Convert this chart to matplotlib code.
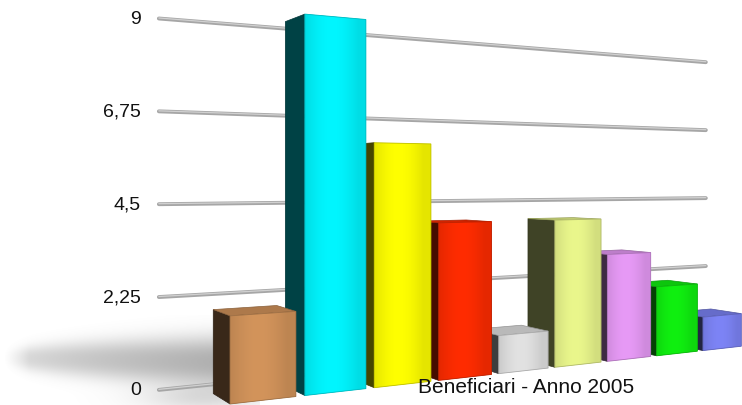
import numpy as np
import matplotlib
matplotlib.use("Agg")
import matplotlib.pyplot as plt
from matplotlib.patches import Polygon
from matplotlib.colors import to_rgb

# ---- data -------------------------------------------------------------
values = [2, 9, 6, 4, 1, 4, 3, 2, 1]
bar_colors = ["#d3945b", "#00f6ff", "#ffff00", "#ff2c00", "#e2e2e2",
              "#eaf78c", "#e79af6", "#10f010", "#7d84f6"]
tick_values = [0, 2.25, 4.5, 6.75, 9]
tick_labels = ["0", "2,25", "4,5", "6,75", "9"]
title = "Beneficiari - Anno 2005"

# ---- perspective camera (scene units = value units) ---------------------
FOCAL = 956.0
CX, CY = 371.0, 182.5
EYE_H = 5.05
PHI = np.deg2rad(27.6)
X0, Z0 = -3.2, 21.7
SPACING, WIDTH, DEPTH = 1.85, 1.62, 1.2
WALL_Z, WALL_X0, WALL_X1 = 2.2, -1.04, 17.27


def project(x, y, z):
    c, s = np.cos(PHI), np.sin(PHI)
    xc = X0 + x * c - z * s
    zc = Z0 + x * s + z * c
    return CX + FOCAL * xc / zc, CY - FOCAL * (y - EYE_H) / zc


def proj_poly(pts):
    return [project(*p) for p in pts]


def shade(color, k):
    r, g, b = to_rgb(color)
    return (r * k, g * k, b * k)


fig = plt.figure(figsize=(7.42, 4.06), dpi=100)
ax = fig.add_axes([0, 0, 1, 1])
ax.axis("off")

# ---- floor shadow ----------------------------------------------------
W, Hh = 520, 180
sx0, sx1, sy0, sy1 = 0.0, 260.0, 316.0, 406.0
uu, vv = np.meshgrid(np.linspace(sx0, sx1, W), np.linspace(sy0, sy1, Hh))
t = np.clip((uu - 6.0) / 210.0, 0, 1)
half = 6 + 20 * np.sqrt(t)
yc = 359 + 4 * t
body = np.exp(-np.abs((vv - yc) / half) ** 2.4) * (0.3 + 0.7 * t ** 0.6)
body *= np.clip((uu - 4) / 25.0, 0, 1)
lower = np.exp(-(((uu - 200) / 60.0) ** 2) - ((vv - 400) / 13.0) ** 2)
alpha = np.clip(0.62 * body + 0.25 * lower, 0, 1)
rgba = np.zeros((Hh, W, 4))
rgba[..., :3] = 0.5
rgba[..., 3] = alpha
ax.imshow(rgba, extent=(sx0, sx1, sy1, sy0), origin="upper",
          interpolation="bilinear", zorder=1, aspect="auto")

# ---- back wall grid lines ----------------------------------------------
for tv, tl in zip(tick_values, tick_labels):
    (u0, v0), (u1, v1) = project(WALL_X0, tv, WALL_Z), project(WALL_X1, tv, WALL_Z)
    ax.plot([u0, u1], [v0, v1], color="#a6a6a6", lw=2.8,
            solid_capstyle="round", zorder=2)
    ax.plot([u0, u1], [v0 - 0.5, v1 - 0.5], color="#d0d0d0", lw=0.9,
            solid_capstyle="round", zorder=2.1)
    ax.text(u0 - 18, v0, tl, ha="right", va="center", fontsize=14,
            family=["Liberation Sans", "DejaVu Sans"], color="#111111", zorder=3)

# ---- bars (far to near so the nearer ones overlap) --------------------
n = len(values)
for i in range(n - 1, -1, -1):
    val, col = values[i], bar_colors[i]
    x0 = i * SPACING
    x1 = x0 + WIDTH
    z0 = 10 + (n - i) * 3
    side = proj_poly([(x0, 0, 0), (x0, 0, DEPTH), (x0, val, DEPTH), (x0, val, 0)])
    front = proj_poly([(x0, 0, 0), (x1, 0, 0), (x1, val, 0), (x0, val, 0)])
    ax.add_patch(Polygon(side, closed=True, fc=shade(col, 0.27),
                         ec=shade(col, 0.22), lw=0.5, zorder=z0))
    if val < EYE_H:
        top = proj_poly([(x0, val, 0), (x1, val, 0), (x1, val, DEPTH), (x0, val, DEPTH)])
        ax.add_patch(Polygon(top, closed=True, fc=shade(col, 0.82),
                             ec=shade(col, 0.65), lw=0.5, zorder=z0 + 1))
    fpoly = Polygon(front, closed=True, fc=col, ec="none", zorder=z0 + 2)
    ax.add_patch(fpoly)
    # soft horizontal gradient across the front face
    fu = [p[0] for p in front]
    fv = [p[1] for p in front]
    prof = np.linspace(0, 1, 64)
    k = 0.9 + 0.1 * np.sin(np.pi * np.clip(prof * 1.15, 0, 1))
    base = np.array(to_rgb(col))
    grad = np.clip(base[None, None, :] * k[None, :, None], 0, 1)
    im = ax.imshow(grad, extent=(min(fu), max(fu), max(fv), min(fv)),
                   origin="upper", interpolation="bilinear", aspect="auto",
                   zorder=z0 + 2.5)
    im.set_clip_path(fpoly)
    ax.add_patch(Polygon(front, closed=True, fc="none", ec=shade(col, 0.75),
                         lw=0.6, zorder=z0 + 2.6))

ax.text(418, 393, title, ha="left", va="baseline", fontsize=15,
        family=["Liberation Sans", "DejaVu Sans"], color="#111111", zorder=100)

ax.set_xlim(0, 742)
ax.set_ylim(406, 0)
fig.savefig("out.png", dpi=100)
